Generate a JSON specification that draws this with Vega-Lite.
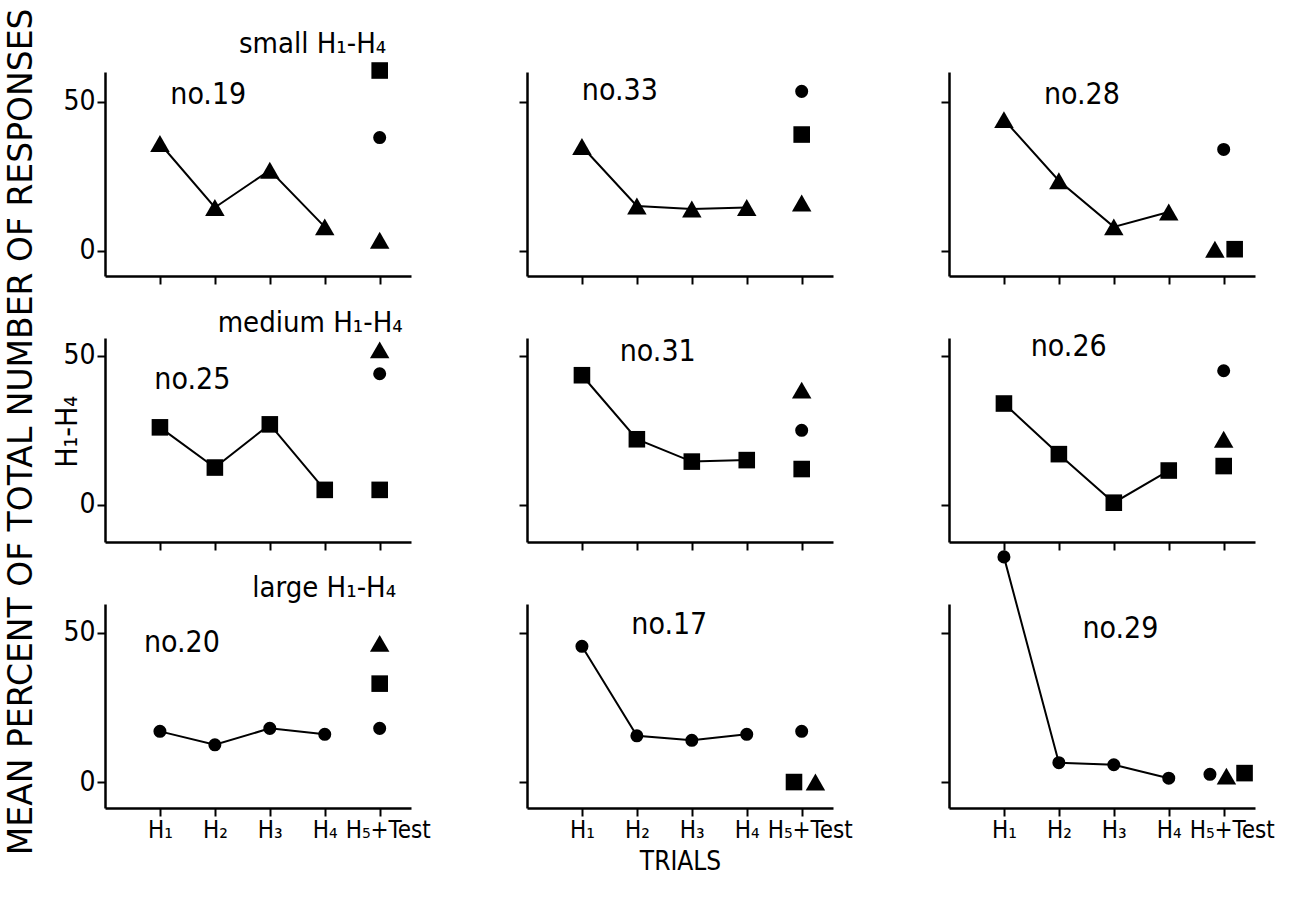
{
  "$schema": "https://vega.github.io/schema/vega-lite/v6.json",
  "background": "white",
  "padding": {"left": 5, "top": 8, "right": 5, "bottom": 5},
  "title": {
    "text": "MEAN PERCENT OF TOTAL NUMBER OF RESPONSES",
    "subtitle": "H₁-H₄",
    "orient": "left",
    "anchor": "middle",
    "dx": 20,
    "font": "DejaVu Sans",
    "fontSize": 33,
    "fontWeight": "normal",
    "color": "black",
    "subtitleFont": "DejaVu Sans Condensed, DejaVu Sans",
    "subtitleFontSize": 30,
    "subtitleColor": "black",
    "subtitlePadding": 14,
    "offset": -20
  },
  "datasets": {
    "pts": [
      {"panel": "no.19", "trial": 1, "stim": "small", "value": 36},
      {"panel": "no.19", "trial": 2, "stim": "small", "value": 14.5},
      {"panel": "no.19", "trial": 3, "stim": "small", "value": 27},
      {"panel": "no.19", "trial": 4, "stim": "small", "value": 8},
      {"panel": "no.19", "trial": 5, "stim": "large", "value": 38},
      {"panel": "no.19", "trial": 5, "stim": "medium", "value": 60.5},
      {"panel": "no.19", "trial": 5, "stim": "small", "value": 3.5},
      {"panel": "no.33", "trial": 1, "stim": "small", "value": 35},
      {"panel": "no.33", "trial": 2, "stim": "small", "value": 15},
      {"panel": "no.33", "trial": 3, "stim": "small", "value": 14},
      {"panel": "no.33", "trial": 4, "stim": "small", "value": 14.5},
      {"panel": "no.33", "trial": 5, "stim": "large", "value": 53.5},
      {"panel": "no.33", "trial": 5, "stim": "medium", "value": 39},
      {"panel": "no.33", "trial": 5, "stim": "small", "value": 16},
      {"panel": "no.28", "trial": 1, "stim": "small", "value": 44},
      {"panel": "no.28", "trial": 2, "stim": "small", "value": 23.5},
      {"panel": "no.28", "trial": 3, "stim": "small", "value": 8},
      {"panel": "no.28", "trial": 4, "stim": "small", "value": 13},
      {"panel": "no.28", "trial": 5, "stim": "large", "value": 34},
      {"panel": "no.28", "trial": 4.84, "stim": "small", "value": 0.5},
      {"panel": "no.28", "trial": 5.2, "stim": "medium", "value": 0.5},
      {"panel": "no.25", "trial": 1, "stim": "medium", "value": 26},
      {"panel": "no.25", "trial": 2, "stim": "medium", "value": 12.5},
      {"panel": "no.25", "trial": 3, "stim": "medium", "value": 27},
      {"panel": "no.25", "trial": 4, "stim": "medium", "value": 5},
      {"panel": "no.25", "trial": 5, "stim": "small", "value": 52},
      {"panel": "no.25", "trial": 5, "stim": "large", "value": 44},
      {"panel": "no.25", "trial": 5, "stim": "medium", "value": 5},
      {"panel": "no.31", "trial": 1, "stim": "medium", "value": 43.5},
      {"panel": "no.31", "trial": 2, "stim": "medium", "value": 22},
      {"panel": "no.31", "trial": 3, "stim": "medium", "value": 14.5},
      {"panel": "no.31", "trial": 4, "stim": "medium", "value": 15},
      {"panel": "no.31", "trial": 5, "stim": "small", "value": 38.5},
      {"panel": "no.31", "trial": 5, "stim": "large", "value": 25},
      {"panel": "no.31", "trial": 5, "stim": "medium", "value": 12},
      {"panel": "no.26", "trial": 1, "stim": "medium", "value": 34},
      {"panel": "no.26", "trial": 2, "stim": "medium", "value": 17},
      {"panel": "no.26", "trial": 3, "stim": "medium", "value": 0.7},
      {"panel": "no.26", "trial": 4, "stim": "medium", "value": 11.5},
      {"panel": "no.26", "trial": 5, "stim": "large", "value": 45},
      {"panel": "no.26", "trial": 5, "stim": "small", "value": 22},
      {"panel": "no.26", "trial": 5, "stim": "medium", "value": 13},
      {"panel": "no.20", "trial": 1, "stim": "large", "value": 17},
      {"panel": "no.20", "trial": 2, "stim": "large", "value": 12.5},
      {"panel": "no.20", "trial": 3, "stim": "large", "value": 18},
      {"panel": "no.20", "trial": 4, "stim": "large", "value": 16},
      {"panel": "no.20", "trial": 5, "stim": "small", "value": 46.5},
      {"panel": "no.20", "trial": 5, "stim": "medium", "value": 33},
      {"panel": "no.20", "trial": 5, "stim": "large", "value": 18},
      {"panel": "no.17", "trial": 1, "stim": "large", "value": 45.5},
      {"panel": "no.17", "trial": 2, "stim": "large", "value": 15.5},
      {"panel": "no.17", "trial": 3, "stim": "large", "value": 14},
      {"panel": "no.17", "trial": 4, "stim": "large", "value": 16},
      {"panel": "no.17", "trial": 5, "stim": "large", "value": 17},
      {"panel": "no.17", "trial": 4.86, "stim": "medium", "value": 0},
      {"panel": "no.17", "trial": 5.25, "stim": "small", "value": 0},
      {"panel": "no.29", "trial": 1, "stim": "large", "value": 75.5},
      {"panel": "no.29", "trial": 2, "stim": "large", "value": 6.5},
      {"panel": "no.29", "trial": 3, "stim": "large", "value": 5.8},
      {"panel": "no.29", "trial": 4, "stim": "large", "value": 1.3},
      {"panel": "no.29", "trial": 4.75, "stim": "large", "value": 2.6},
      {"panel": "no.29", "trial": 5.05, "stim": "small", "value": 2},
      {"panel": "no.29", "trial": 5.38, "stim": "medium", "value": 3}
    ]
  },
  "bounds": "flush",
  "align": "all",
  "columns": 3,
  "spacing": {"row": 62, "column": 116},
  "concat": [
    {
      "width": 306, "height": 204,
      "data": {"name": "pts"},
      "transform": [{"filter": "datum.panel === 'no.19'"}],
      "encoding": {
        "x": {"field": "trial", "type": "quantitative", "scale": {"domain": [0, 5.57], "nice": false, "zero": false}, "axis": {"values": [1, 2, 3, 4, 5], "labels": false, "title": null}},
        "y": {"field": "value", "type": "quantitative", "scale": {"domain": [-8.5, 60], "nice": false, "zero": false}, "axis": {"values": [0, 50], "labels": true, "title": null}}
      },
      "layer": [
        {"transform": [{"filter": "datum.trial <= 4"}], "mark": {"type": "line", "color": "black", "strokeWidth": 2}},
        {"mark": {"type": "point", "filled": true, "opacity": 1, "color": "black"},
         "encoding": {"shape": {"field": "stim", "type": "nominal", "scale": {"domain": ["small", "medium", "large"], "range": ["triangle-up", "square", "circle"]}, "legend": null},
                      "size": {"field": "stim", "type": "nominal", "scale": {"domain": ["small", "medium", "large"], "range": [380, 170, 240]}, "legend": null}}},
        {"transform": [{"filter": "datum.trial === 1"}], "mark": {"type": "text", "text": "no.19", "fontSize": 30, "align": "center", "baseline": "middle", "color": "black"}, "encoding": {"x": {"datum": 1.88}, "y": {"datum": 52.3}}},
        {"transform": [{"filter": "datum.trial === 1"}], "mark": {"type": "text", "text": "small H₁-H₄", "fontSize": 29, "align": "right", "baseline": "middle", "color": "black"}, "encoding": {"x": {"datum": 5.12}, "y": {"datum": 69.5}}}
      ]
    },
    {
      "width": 306, "height": 204,
      "data": {"name": "pts"},
      "transform": [{"filter": "datum.panel === 'no.33'"}],
      "encoding": {
        "x": {"field": "trial", "type": "quantitative", "scale": {"domain": [0, 5.57], "nice": false, "zero": false}, "axis": {"values": [1, 2, 3, 4, 5], "labels": false, "title": null}},
        "y": {"field": "value", "type": "quantitative", "scale": {"domain": [-8.5, 60], "nice": false, "zero": false}, "axis": {"values": [0, 50], "labels": false, "title": null}}
      },
      "layer": [
        {"transform": [{"filter": "datum.trial <= 4"}], "mark": {"type": "line", "color": "black", "strokeWidth": 2}},
        {"mark": {"type": "point", "filled": true, "opacity": 1, "color": "black"},
         "encoding": {"shape": {"field": "stim", "type": "nominal", "scale": {"domain": ["small", "medium", "large"], "range": ["triangle-up", "square", "circle"]}, "legend": null},
                      "size": {"field": "stim", "type": "nominal", "scale": {"domain": ["small", "medium", "large"], "range": [380, 170, 240]}, "legend": null}}},
        {"transform": [{"filter": "datum.trial === 1"}], "mark": {"type": "text", "text": "no.33", "fontSize": 30, "align": "center", "baseline": "middle", "color": "black"}, "encoding": {"x": {"datum": 1.69}, "y": {"datum": 53.7}}}
      ]
    },
    {
      "width": 306, "height": 204,
      "data": {"name": "pts"},
      "transform": [{"filter": "datum.panel === 'no.28'"}],
      "encoding": {
        "x": {"field": "trial", "type": "quantitative", "scale": {"domain": [0, 5.57], "nice": false, "zero": false}, "axis": {"values": [1, 2, 3, 4, 5], "labels": false, "title": null}},
        "y": {"field": "value", "type": "quantitative", "scale": {"domain": [-8.5, 60], "nice": false, "zero": false}, "axis": {"values": [0, 50], "labels": false, "title": null}}
      },
      "layer": [
        {"transform": [{"filter": "datum.trial <= 4"}], "mark": {"type": "line", "color": "black", "strokeWidth": 2}},
        {"mark": {"type": "point", "filled": true, "opacity": 1, "color": "black"},
         "encoding": {"shape": {"field": "stim", "type": "nominal", "scale": {"domain": ["small", "medium", "large"], "range": ["triangle-up", "square", "circle"]}, "legend": null},
                      "size": {"field": "stim", "type": "nominal", "scale": {"domain": ["small", "medium", "large"], "range": [380, 170, 240]}, "legend": null}}},
        {"transform": [{"filter": "datum.trial === 1"}], "mark": {"type": "text", "text": "no.28", "fontSize": 30, "align": "center", "baseline": "middle", "color": "black"}, "encoding": {"x": {"datum": 2.42}, "y": {"datum": 52.4}}}
      ]
    },
    {
      "width": 306, "height": 204,
      "data": {"name": "pts"},
      "transform": [{"filter": "datum.panel === 'no.25'"}],
      "encoding": {
        "x": {"field": "trial", "type": "quantitative", "scale": {"domain": [0, 5.57], "nice": false, "zero": false}, "axis": {"values": [1, 2, 3, 4, 5], "labels": false, "title": null}},
        "y": {"field": "value", "type": "quantitative", "scale": {"domain": [-12.5, 56], "nice": false, "zero": false}, "axis": {"values": [0, 50], "labels": true, "title": null}}
      },
      "layer": [
        {"transform": [{"filter": "datum.trial <= 4"}], "mark": {"type": "line", "color": "black", "strokeWidth": 2}},
        {"mark": {"type": "point", "filled": true, "opacity": 1, "color": "black"},
         "encoding": {"shape": {"field": "stim", "type": "nominal", "scale": {"domain": ["small", "medium", "large"], "range": ["triangle-up", "square", "circle"]}, "legend": null},
                      "size": {"field": "stim", "type": "nominal", "scale": {"domain": ["small", "medium", "large"], "range": [380, 170, 240]}, "legend": null}}},
        {"transform": [{"filter": "datum.trial === 1"}], "mark": {"type": "text", "text": "no.25", "fontSize": 30, "align": "center", "baseline": "middle", "color": "black"}, "encoding": {"x": {"datum": 1.59}, "y": {"datum": 42}}},
        {"transform": [{"filter": "datum.trial === 1"}], "mark": {"type": "text", "text": "medium H₁-H₄", "fontSize": 29, "align": "right", "baseline": "middle", "color": "black"}, "encoding": {"x": {"datum": 5.42}, "y": {"datum": 61}}}
      ]
    },
    {
      "width": 306, "height": 204,
      "data": {"name": "pts"},
      "transform": [{"filter": "datum.panel === 'no.31'"}],
      "encoding": {
        "x": {"field": "trial", "type": "quantitative", "scale": {"domain": [0, 5.57], "nice": false, "zero": false}, "axis": {"values": [1, 2, 3, 4, 5], "labels": false, "title": null}},
        "y": {"field": "value", "type": "quantitative", "scale": {"domain": [-12.5, 56], "nice": false, "zero": false}, "axis": {"values": [0, 50], "labels": false, "title": null}}
      },
      "layer": [
        {"transform": [{"filter": "datum.trial <= 4"}], "mark": {"type": "line", "color": "black", "strokeWidth": 2}},
        {"mark": {"type": "point", "filled": true, "opacity": 1, "color": "black"},
         "encoding": {"shape": {"field": "stim", "type": "nominal", "scale": {"domain": ["small", "medium", "large"], "range": ["triangle-up", "square", "circle"]}, "legend": null},
                      "size": {"field": "stim", "type": "nominal", "scale": {"domain": ["small", "medium", "large"], "range": [380, 170, 240]}, "legend": null}}},
        {"transform": [{"filter": "datum.trial === 1"}], "mark": {"type": "text", "text": "no.31", "fontSize": 30, "align": "center", "baseline": "middle", "color": "black"}, "encoding": {"x": {"datum": 2.38}, "y": {"datum": 51.3}}}
      ]
    },
    {
      "width": 306, "height": 204,
      "data": {"name": "pts"},
      "transform": [{"filter": "datum.panel === 'no.26'"}],
      "encoding": {
        "x": {"field": "trial", "type": "quantitative", "scale": {"domain": [0, 5.57], "nice": false, "zero": false}, "axis": {"values": [1, 2, 3, 4, 5], "labels": false, "title": null}},
        "y": {"field": "value", "type": "quantitative", "scale": {"domain": [-12.5, 56], "nice": false, "zero": false}, "axis": {"values": [0, 50], "labels": false, "title": null}}
      },
      "layer": [
        {"transform": [{"filter": "datum.trial <= 4"}], "mark": {"type": "line", "color": "black", "strokeWidth": 2}},
        {"mark": {"type": "point", "filled": true, "opacity": 1, "color": "black"},
         "encoding": {"shape": {"field": "stim", "type": "nominal", "scale": {"domain": ["small", "medium", "large"], "range": ["triangle-up", "square", "circle"]}, "legend": null},
                      "size": {"field": "stim", "type": "nominal", "scale": {"domain": ["small", "medium", "large"], "range": [380, 170, 240]}, "legend": null}}},
        {"transform": [{"filter": "datum.trial === 1"}], "mark": {"type": "text", "text": "no.26", "fontSize": 30, "align": "center", "baseline": "middle", "color": "black"}, "encoding": {"x": {"datum": 2.18}, "y": {"datum": 53}}}
      ]
    },
    {
      "width": 306, "height": 204,
      "data": {"name": "pts"},
      "transform": [{"filter": "datum.panel === 'no.20'"}],
      "encoding": {
        "x": {"field": "trial", "type": "quantitative", "scale": {"domain": [0, 5.57], "nice": false, "zero": false}, "axis": {"values": [1, 2, 3, 4, 5], "labels": true, "title": null}},
        "y": {"field": "value", "type": "quantitative", "scale": {"domain": [-8.7, 59.7], "nice": false, "zero": false}, "axis": {"values": [0, 50], "labels": true, "title": null}}
      },
      "layer": [
        {"transform": [{"filter": "datum.trial <= 4"}], "mark": {"type": "line", "color": "black", "strokeWidth": 2}},
        {"mark": {"type": "point", "filled": true, "opacity": 1, "color": "black"},
         "encoding": {"shape": {"field": "stim", "type": "nominal", "scale": {"domain": ["small", "medium", "large"], "range": ["triangle-up", "square", "circle"]}, "legend": null},
                      "size": {"field": "stim", "type": "nominal", "scale": {"domain": ["small", "medium", "large"], "range": [380, 170, 240]}, "legend": null}}},
        {"transform": [{"filter": "datum.trial === 1"}], "mark": {"type": "text", "text": "no.20", "fontSize": 30, "align": "center", "baseline": "middle", "color": "black"}, "encoding": {"x": {"datum": 1.4}, "y": {"datum": 46.6}}},
        {"transform": [{"filter": "datum.trial === 1"}], "mark": {"type": "text", "text": "large H₁-H₄", "fontSize": 29, "align": "right", "baseline": "middle", "color": "black"}, "encoding": {"x": {"datum": 5.3}, "y": {"datum": 65}}}
      ]
    },
    {
      "width": 306, "height": 204,
      "data": {"name": "pts"},
      "transform": [{"filter": "datum.panel === 'no.17'"}],
      "encoding": {
        "x": {"field": "trial", "type": "quantitative", "scale": {"domain": [0, 5.57], "nice": false, "zero": false}, "axis": {"values": [1, 2, 3, 4, 5], "labels": true, "title": "TRIALS"}},
        "y": {"field": "value", "type": "quantitative", "scale": {"domain": [-8.7, 59.7], "nice": false, "zero": false}, "axis": {"values": [0, 50], "labels": false, "title": null}}
      },
      "layer": [
        {"transform": [{"filter": "datum.trial <= 4"}], "mark": {"type": "line", "color": "black", "strokeWidth": 2}},
        {"mark": {"type": "point", "filled": true, "opacity": 1, "color": "black"},
         "encoding": {"shape": {"field": "stim", "type": "nominal", "scale": {"domain": ["small", "medium", "large"], "range": ["triangle-up", "square", "circle"]}, "legend": null},
                      "size": {"field": "stim", "type": "nominal", "scale": {"domain": ["small", "medium", "large"], "range": [380, 170, 240]}, "legend": null}}},
        {"transform": [{"filter": "datum.trial === 1"}], "mark": {"type": "text", "text": "no.17", "fontSize": 30, "align": "center", "baseline": "middle", "color": "black"}, "encoding": {"x": {"datum": 2.59}, "y": {"datum": 52.6}}}
      ]
    },
    {
      "width": 306, "height": 204,
      "data": {"name": "pts"},
      "transform": [{"filter": "datum.panel === 'no.29'"}],
      "encoding": {
        "x": {"field": "trial", "type": "quantitative", "scale": {"domain": [0, 5.57], "nice": false, "zero": false}, "axis": {"values": [1, 2, 3, 4, 5], "labels": true, "title": null}},
        "y": {"field": "value", "type": "quantitative", "scale": {"domain": [-8.7, 59.7], "nice": false, "zero": false}, "axis": {"values": [0, 50], "labels": false, "title": null}}
      },
      "layer": [
        {"transform": [{"filter": "datum.trial <= 4"}], "mark": {"type": "line", "color": "black", "strokeWidth": 2}},
        {"mark": {"type": "point", "filled": true, "opacity": 1, "color": "black"},
         "encoding": {"shape": {"field": "stim", "type": "nominal", "scale": {"domain": ["small", "medium", "large"], "range": ["triangle-up", "square", "circle"]}, "legend": null},
                      "size": {"field": "stim", "type": "nominal", "scale": {"domain": ["small", "medium", "large"], "range": [380, 170, 240]}, "legend": null}}},
        {"transform": [{"filter": "datum.trial === 1"}], "mark": {"type": "text", "text": "no.29", "fontSize": 30, "align": "center", "baseline": "middle", "color": "black"}, "encoding": {"x": {"datum": 3.12}, "y": {"datum": 51.3}}}
      ]
    }
  ],
  "config": {
    "font": "DejaVu Sans Condensed, DejaVu Sans",
    "view": {"stroke": null},
    "text": {"font": "DejaVu Sans Condensed, DejaVu Sans", "color": "black"},
    "axis": {
      "grid": false,
      "domainColor": "black",
      "domainWidth": 2.5,
      "tickColor": "black",
      "tickWidth": 2,
      "tickSize": 8,
      "labelColor": "black",
      "labelFont": "DejaVu Sans Condensed, DejaVu Sans",
      "labelFontSize": 28,
      "labelPadding": 2,
      "labelOverlap": false,
      "titleColor": "black",
      "titleFont": "DejaVu Sans Condensed, DejaVu Sans",
      "titleFontSize": 26,
      "titleFontWeight": "normal",
      "titlePadding": 6
    },
    "axisX": {
      "labelExpr": "['', 'H₁', 'H₂', 'H₃', 'H₄', 'H₅+Test'][datum.value]",
      "labelFont": "DejaVu Sans Condensed, DejaVu Sans",
      "labelFontSize": 24,
      "labelPadding": 2,
      "labelOffset": {"condition": {"test": "datum.value === 5", "value": 8}, "value": 0}
    }
  }
}
